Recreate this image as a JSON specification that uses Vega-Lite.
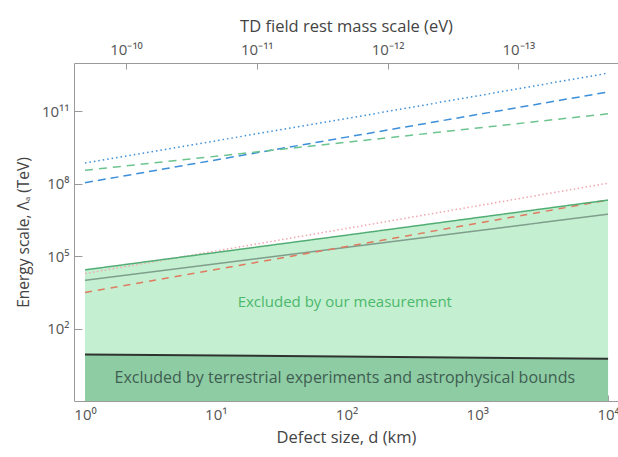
{
  "$schema": "https://vega.github.io/schema/vega-lite/v6.json",
  "width": 544,
  "height": 338,
  "autosize": {"type": "none"},
  "padding": {"left": 74, "top": 63, "right": 0, "bottom": 56},
  "background": "white",
  "config": {
    "view": {"stroke": null},
    "font": "Open Sans",
    "axis": {
      "domainColor": "#9a9a9a",
      "domainWidth": 1,
      "tickColor": "#9a9a9a",
      "grid": false,
      "labelFont": "Open Sans",
      "labelFontSize": 15,
      "labelColor": "#555555",
      "titleFont": "Open Sans",
      "titleFontSize": 16.5,
      "titleFontWeight": "normal",
      "titleColor": "#444444"
    }
  },
  "datasets": {
    "lines": [
      {"series": "blue_dotted", "d": 1, "lam": 7.2e8},
      {"series": "blue_dotted", "d": 100, "lam": 5.0e10},
      {"series": "blue_dotted", "d": 10000, "lam": 3.8e12},
      {"series": "blue_dashed", "d": 1, "lam": 1.1e8},
      {"series": "blue_dashed", "d": 100, "lam": 8.5e9},
      {"series": "blue_dashed", "d": 10000, "lam": 6.3e11},
      {"series": "green_dashed", "d": 1, "lam": 3.6e8},
      {"series": "green_dashed", "d": 100, "lam": 5.2e9},
      {"series": "green_dashed", "d": 10000, "lam": 7.9e10},
      {"series": "red_dotted", "d": 1, "lam": 1.9e4},
      {"series": "red_dotted", "d": 100, "lam": 1.4e6},
      {"series": "red_dotted", "d": 10000, "lam": 1.05e8},
      {"series": "gray_solid", "d": 1, "lam": 1.0e4},
      {"series": "gray_solid", "d": 100, "lam": 2.3e5},
      {"series": "gray_solid", "d": 10000, "lam": 5.5e6},
      {"series": "red_dashed", "d": 1, "lam": 3.1e3},
      {"series": "red_dashed", "d": 100, "lam": 2.5e5},
      {"series": "red_dashed", "d": 10000, "lam": 2.1e7},
      {"series": "green_solid", "d": 1, "lam": 2.7e4},
      {"series": "green_solid", "d": 100, "lam": 7.4e5},
      {"series": "green_solid", "d": 10000, "lam": 2.1e7},
      {"series": "band", "d": 1, "lam": 8.5},
      {"series": "band", "d": 10000, "lam": 5.6}
    ],
    "notes": [
      {"kind": "ours", "d": 97, "lam": 1250, "text": "Excluded by our measurement"},
      {"kind": "terr", "d": 97, "lam": 0.9, "text": "Excluded by terrestrial experiments and astrophysical bounds"}
    ],
    "mass": [
      {"m": 1e-10}, {"m": 1e-11}, {"m": 1e-12}, {"m": 1e-13}
    ]
  },
  "layer": [
    {
      "encoding": {
        "x": {
          "field": "d",
          "type": "quantitative",
          "scale": {"type": "log", "domain": [0.824, 11912]},
          "axis": {
            "orient": "bottom",
            "values": [1, 10, 100, 1000, 10000],
            "labelExpr": "'10' + ['⁰','¹','²','³','⁴'][round(log(datum.value)/LN10)]",
            "tickSize": -6,
            "labelPadding": 12,
            "title": "Defect size, d (km)",
            "titlePadding": 7
          }
        },
        "y": {
          "field": "lam",
          "type": "quantitative",
          "scale": {"type": "log", "domain": [0.1, 1e13]},
          "axis": {
            "values": [100, 100000, 100000000, 100000000000],
            "labelExpr": "'10' + ['⁰','¹','²','³','⁴','⁵','⁶','⁷','⁸','⁹','¹⁰','¹¹','¹²','¹³'][round(log(datum.value)/LN10)]",
            "tickSize": -8,
            "labelPadding": 13,
            "title": "Energy scale, Λₐ (TeV)",
            "titleFontSize": 15.5,
            "titlePadding": 10
          }
        }
      },
      "layer": [
        {
          "data": {"name": "lines"},
          "transform": [{"filter": "datum.series === 'green_solid'"}],
          "mark": {"type": "area", "color": "#c4efd1", "opacity": 1},
          "encoding": {"y2": {"datum": 0.1}}
        },
        {
          "data": {"name": "lines"},
          "transform": [{"filter": "datum.series === 'band'"}],
          "mark": {"type": "area", "color": "#8ecca4", "opacity": 1},
          "encoding": {"y2": {"datum": 0.1}}
        },
        {
          "data": {"name": "lines"},
          "transform": [{"filter": "datum.series !== 'band'"}],
          "mark": {"type": "line", "strokeWidth": 1.5},
          "encoding": {
            "color": {
              "field": "series",
              "type": "nominal",
              "legend": null,
              "scale": {
                "domain": ["blue_dotted", "blue_dashed", "green_dashed", "red_dotted", "gray_solid", "red_dashed", "green_solid"],
                "range": ["#3c8fd8", "#3c8fd8", "#6cc48e", "#f2a6b0", "#7f9e8c", "#e07a60", "#52ad74"]
              }
            },
            "strokeDash": {
              "field": "series",
              "type": "nominal",
              "legend": null,
              "scale": {
                "domain": ["blue_dotted", "blue_dashed", "green_dashed", "red_dotted", "gray_solid", "red_dashed", "green_solid"],
                "range": [[1.5, 3], [8, 5], [8, 6], [1.5, 2.5], [1, 0], [7, 6], [1, 0]]
              }
            }
          }
        },
        {
          "data": {"name": "lines"},
          "transform": [{"filter": "datum.series === 'band'"}],
          "mark": {"type": "line", "color": "#2e3330", "strokeWidth": 2},
          "encoding": {}
        },
        {
          "data": {"name": "notes"},
          "transform": [{"filter": "datum.kind === 'ours'"}],
          "mark": {"type": "text", "font": "Open Sans", "fontSize": 15, "color": "#4cb86c", "align": "center", "baseline": "middle"},
          "encoding": {"text": {"field": "text"}}
        },
        {
          "data": {"name": "notes"},
          "transform": [{"filter": "datum.kind === 'terr'"}],
          "mark": {"type": "text", "font": "Open Sans", "fontSize": 16, "color": "#3f5e51", "align": "center", "baseline": "middle"},
          "encoding": {"text": {"field": "text"}}
        }
      ]
    },
    {
      "data": {"name": "mass"},
      "mark": {"type": "point", "opacity": 0},
      "encoding": {
        "x": {
          "field": "m",
          "type": "quantitative",
          "scale": {"type": "log", "domain": [2.5e-10, 1.729e-14]},
          "axis": {
            "orient": "top",
            "values": [1e-10, 1e-11, 1e-12, 1e-13],
            "labelExpr": "'10⁻' + ['¹⁰','¹¹','¹²','¹³'][round(-log(datum.value)/LN10) - 10]",
            "tickSize": -6,
            "labelPadding": 12,
            "title": "TD field rest mass scale (eV)",
            "titlePadding": 8
          }
        }
      }
    }
  ],
  "resolve": {"scale": {"x": "independent"}, "axis": {"x": "independent"}}
}
